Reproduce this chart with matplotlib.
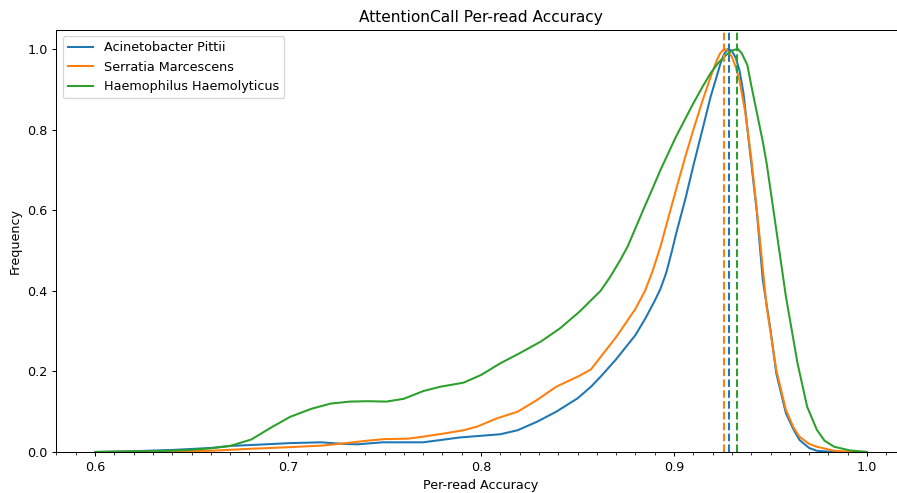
import matplotlib
matplotlib.use("Agg")
import matplotlib.pyplot as plt
from matplotlib.ticker import MultipleLocator

# per-read accuracy density curves (normalised to peak = 1)
species = ["Acinetobacter Pittii", "Serratia Marcescens", "Haemophilus Haemolyticus"]
colors = ["#1f77b4", "#ff7f0e", "#2ca02c"]

acc_pittii = [0.600, 0.620, 0.640, 0.660, 0.670, 0.684, 0.701, 0.717, 0.729, 0.736,
              0.749, 0.770, 0.789, 0.810, 0.819, 0.829, 0.839, 0.850, 0.857, 0.862,
              0.870, 0.880, 0.885, 0.890, 0.893, 0.896, 0.899, 0.901, 0.906, 0.910,
              0.915, 0.919, 0.922, 0.924, 0.926, 0.928, 0.930, 0.932, 0.934, 0.936,
              0.939, 0.943, 0.946, 0.950, 0.953, 0.958, 0.962, 0.965, 0.970, 0.974,
              0.983, 1.000]
freq_pittii = [0.000, 0.002, 0.005, 0.010, 0.015, 0.018, 0.022, 0.024, 0.020, 0.019,
               0.024, 0.024, 0.036, 0.044, 0.054, 0.075, 0.100, 0.133, 0.162, 0.187,
               0.230, 0.290, 0.330, 0.375, 0.405, 0.445, 0.500, 0.540, 0.630, 0.710,
               0.805, 0.882, 0.930, 0.963, 0.988, 1.000, 0.995, 0.978, 0.945, 0.890,
               0.760, 0.592, 0.427, 0.303, 0.195, 0.096, 0.055, 0.030, 0.010, 0.003,
               0.000, 0.000]

acc_marcescens = [0.600, 0.630, 0.660, 0.681, 0.701, 0.718, 0.732, 0.741, 0.750, 0.762,
                  0.770, 0.781, 0.791, 0.798, 0.808, 0.819, 0.829, 0.839, 0.851, 0.857,
                  0.862, 0.870, 0.875, 0.880, 0.885, 0.889, 0.893, 0.897, 0.901, 0.906,
                  0.910, 0.915, 0.919, 0.922, 0.924, 0.926, 0.928, 0.930, 0.932, 0.934,
                  0.937, 0.940, 0.944, 0.948, 0.953, 0.958, 0.962, 0.965, 0.970, 0.974,
                  0.983, 0.990, 1.000]
freq_marcescens = [0.000, 0.001, 0.003, 0.008, 0.012, 0.016, 0.023, 0.028, 0.032, 0.033,
                   0.038, 0.046, 0.054, 0.063, 0.083, 0.100, 0.129, 0.162, 0.189, 0.205,
                   0.236, 0.285, 0.320, 0.355, 0.400, 0.450, 0.510, 0.580, 0.650, 0.735,
                   0.799, 0.875, 0.931, 0.970, 0.990, 1.000, 0.996, 0.980, 0.955, 0.920,
                   0.840, 0.730, 0.551, 0.360, 0.203, 0.104, 0.060, 0.038, 0.020, 0.013,
                   0.003, 0.001, 0.000]

acc_haemolyticus = [0.600, 0.632, 0.649, 0.660, 0.670, 0.681, 0.691, 0.701, 0.712, 0.722,
                    0.732, 0.741, 0.751, 0.760, 0.770, 0.779, 0.791, 0.800, 0.810, 0.820,
                    0.831, 0.841, 0.851, 0.862, 0.867, 0.872, 0.876, 0.880, 0.884, 0.889,
                    0.893, 0.901, 0.910, 0.915, 0.919, 0.923, 0.927, 0.930, 0.933, 0.935,
                    0.938, 0.940, 0.943, 0.946, 0.948, 0.953, 0.958, 0.964, 0.969, 0.974,
                    0.978, 0.983, 0.991, 1.000]
freq_haemolyticus = [0.000, 0.002, 0.005, 0.009, 0.015, 0.031, 0.060, 0.087, 0.107, 0.120,
                     0.125, 0.126, 0.125, 0.132, 0.151, 0.162, 0.172, 0.191, 0.220, 0.245,
                     0.274, 0.307, 0.348, 0.400, 0.435, 0.475, 0.510, 0.555, 0.600, 0.655,
                     0.700, 0.782, 0.865, 0.908, 0.940, 0.966, 0.985, 0.996, 1.000, 0.990,
                     0.960, 0.910, 0.840, 0.770, 0.716, 0.551, 0.385, 0.220, 0.112, 0.055,
                     0.028, 0.013, 0.004, 0.000]

# accuracy at each curve's peak (dashed markers)
peak_acc = [0.9283, 0.9261, 0.9325]

DPI = 92
fig = plt.figure(figsize=(897 / DPI, 493 / DPI), dpi=DPI)
# axes run a little past the right edge, as in the reference crop
ax = fig.add_axes([0.0629, 0.0832, 0.9467, 0.856])

series = [(acc_pittii, freq_pittii), (acc_marcescens, freq_marcescens),
          (acc_haemolyticus, freq_haemolyticus)]
for (xs, ys), name, c in zip(series, species, colors):
    ax.plot(xs, ys, color=c, label=name, linewidth=1.6)
for p, c in zip(peak_acc, colors):
    ax.axvline(p, color=c, linestyle="--", linewidth=1.6)

ax.set_xlim(0.58, 1.02)
ax.set_ylim(0, 1.047)
ax.xaxis.set_major_locator(MultipleLocator(0.1))
ax.xaxis.set_minor_locator(MultipleLocator(0.01))
ax.set_title("AttentionCall Per-read Accuracy")
ax.set_xlabel("Per-read Accuracy")
ax.set_ylabel("Frequency")
ax.legend(loc="upper left")

fig.savefig("out.png", dpi=DPI)
